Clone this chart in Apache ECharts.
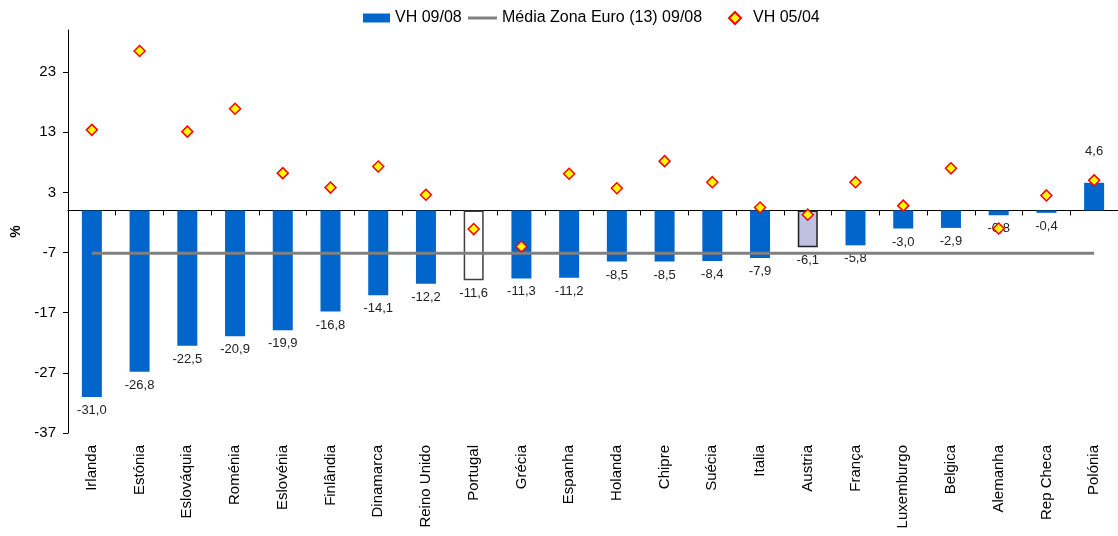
<!DOCTYPE html>
<html>
<head>
<meta charset="utf-8">
<script src="https://cdn.jsdelivr.net/npm/echarts@6/dist/echarts.min.js"></script>
<style>
  html, body { margin: 0; padding: 0; background: #fff; }
  #chart { width: 1118px; height: 536px; }
</style>
</head>
<body>
<div id="chart"></div>
<script>
// Countries, ordered by the 09/08 change
const categories = ['Irlanda', 'Estónia', 'Eslováquia', 'Roménia', 'Eslovénia', 'Finlândia',
  'Dinamarca', 'Reino Unido', 'Portugal', 'Grécia', 'Espanha', 'Holanda', 'Chipre', 'Suécia',
  'Italia', 'Austria', 'França', 'Luxemburgo', 'Belgica', 'Alemanha', 'Rep Checa', 'Polónia'];

// VH 09/08 (%)
const vh0908 = [-31.0, -26.8, -22.5, -20.9, -19.9, -16.8, -14.1, -12.2, -11.6, -11.3, -11.2,
  -8.5, -8.5, -8.4, -7.9, -6.1, -5.8, -3.0, -2.9, -0.8, -0.4, 4.6];

// VH 05/04 (%)
const vh0504 = [13.4, 26.5, 13.1, 16.9, 6.2, 3.8, 7.3, 2.6, -3.1, -6.0, 6.1,
  3.7, 8.2, 4.7, 0.5, -0.7, 4.7, 0.8, 7.0, -3.0, 2.5, 5.0];

// Média Zona Euro (13) 09/08 (%)
const mediaZonaEuro = -7.1;

// Y axis tick values
const yTicks = [-37, -27, -17, -7, 3, 13, 23];

const FONT = 'Liberation Sans, Arial, sans-serif';
const fmt = v => v.toFixed(1).replace('.', ',');

const barData = vh0908.map((v, i) => {
  const item = {
    value: v,
    label: { position: v < 0 ? 'bottom' : 'top', distance: v < 0 ? 7 : 25 }
  };
  if (categories[i] === 'Portugal') {
    item.itemStyle = { color: '#ffffff', borderColor: '#404040', borderWidth: 1.5 };
  } else if (categories[i] === 'Austria') {
    item.itemStyle = { color: '#c0c0e2', borderColor: '#202020', borderWidth: 1.5 };
  }
  return item;
});

const chart = echarts.init(document.getElementById('chart'), null, { renderer: 'canvas' });

const legendText = { fontFamily: FONT, fontSize: 16, color: '#000' };
const legendBase = {
  top: 10,
  padding: 0,
  textStyle: legendText,
  itemGap: 0,
  selectedMode: false
};

chart.setOption({
  animation: false,
  backgroundColor: '#ffffff',
  legend: [
    Object.assign({}, legendBase, {
      left: 363, data: [{ name: 'VH 09/08', icon: 'rect' }],
      itemWidth: 27, itemHeight: 9
    }),
    Object.assign({}, legendBase, {
      left: 468, data: [{ name: 'Média Zona Euro (13) 09/08', icon: 'rect' }],
      itemWidth: 29, itemHeight: 3
    }),
    Object.assign({}, legendBase, {
      left: 728, data: [{ name: 'VH 05/04', icon: 'diamond' }],
      itemWidth: 12, itemHeight: 12,
      textStyle: Object.assign({}, legendText, { padding: [0, 0, 0, 7] })
    })
  ],
  grid: { left: 68, top: 30, width: 1052, bottom: 103, containLabel: false },
  xAxis: [
    {
      type: 'category',
      data: categories,
      position: 'bottom',
      axisLine: { show: false, onZero: false },
      axisTick: { show: false },
      axisLabel: {
        interval: 0, rotate: 90, margin: 12,
        fontFamily: FONT, fontSize: 15, color: '#000'
      }
    },
    {
      type: 'category',
      data: categories,
      position: 'top',
      axisLine: { show: true, onZero: true, lineStyle: { color: '#000', width: 1 } },
      axisTick: { show: true, inside: true, length: 5, interval: 0, lineStyle: { color: '#000' } },
      axisLabel: { show: false }
    }
  ],
  yAxis: {
    type: 'value',
    min: -37,
    max: 30,
    interval: 10,
    name: '%',
    nameLocation: 'middle',
    nameRotate: 90,
    nameGap: 45,
    nameTextStyle: { fontFamily: FONT, fontSize: 14, fontWeight: 'bold', color: '#000' },
    splitLine: { show: false },
    axisLine: { show: true, lineStyle: { color: '#000', width: 1 } },
    axisTick: { show: true, length: 5, customValues: yTicks, lineStyle: { color: '#000' } },
    axisLabel: {
      customValues: yTicks,
      margin: 12,
      fontFamily: FONT, fontSize: 15, color: '#000'
    }
  },
  series: [
    {
      name: 'VH 09/08',
      type: 'bar',
      xAxisIndex: 0,
      data: barData,
      barWidth: 20,
      itemStyle: { color: '#0066cc' },
      label: {
        show: true,
        formatter: p => fmt(p.value),
        fontFamily: FONT, fontSize: 13, color: '#222'
      },
      z: 2
    },
    {
      name: 'Média Zona Euro (13) 09/08',
      type: 'line',
      xAxisIndex: 0,
      data: categories.map(() => mediaZonaEuro),
      symbol: 'none',
      lineStyle: { color: '#808080', width: 3 },
      itemStyle: { color: '#808080' },
      z: 3
    },
    {
      name: 'VH 05/04',
      type: 'scatter',
      xAxisIndex: 0,
      data: vh0504,
      symbol: 'diamond',
      symbolSize: 11,
      itemStyle: { color: '#ffff00', borderColor: '#ff0000', borderWidth: 1.5, opacity: 1 },
      z: 4
    }
  ]
});
</script>
</body>
</html>
